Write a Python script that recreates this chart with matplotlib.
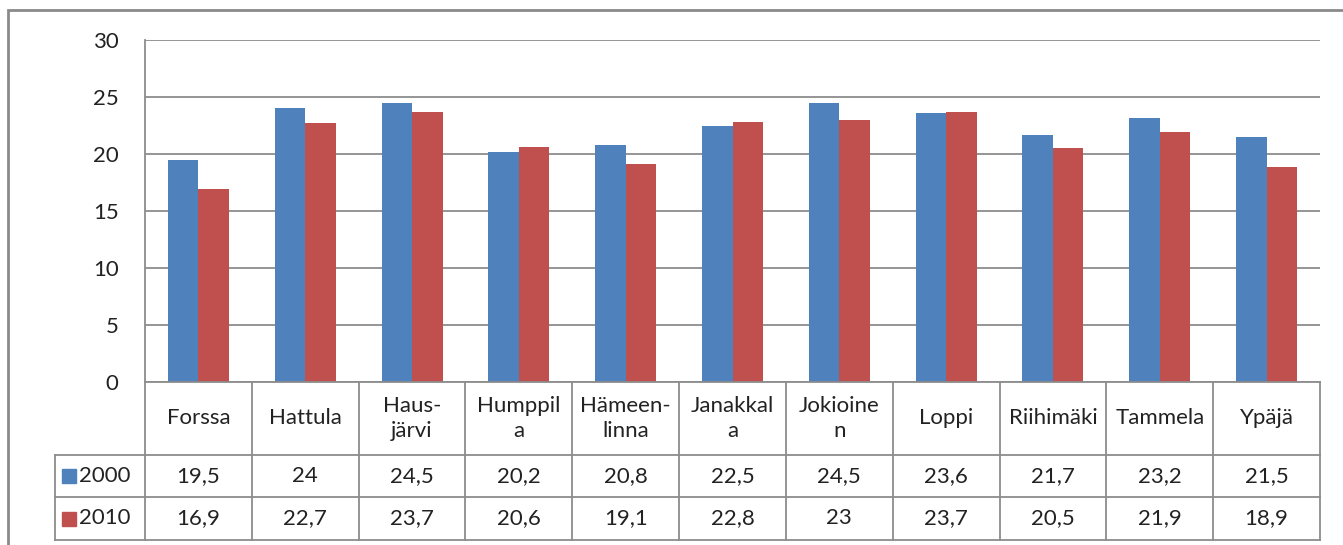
import matplotlib.pyplot as plt
import numpy as np
from matplotlib.lines import Line2D
from matplotlib.patches import Rectangle
from matplotlib.transforms import blended_transform_factory

# data
kunnat = ["Forssa", "Hattula", "Haus-\njärvi", "Humppil\na", "Hämeen-\nlinna",
          "Janakkal\na", "Jokioine\nn", "Loppi", "Riihimäki", "Tammela", "Ypäjä"]
v2000 = [19.5, 24, 24.5, 20.2, 20.8, 22.5, 24.5, 23.6, 21.7, 23.2, 21.5]
v2010 = [16.9, 22.7, 23.7, 20.6, 19.1, 22.8, 23, 23.7, 20.5, 21.9, 18.9]
series = ["2000", "2010"]
colors = ["#4F81BD", "#C0504D"]

plt.rcParams['font.family'] = ['Lato', 'DejaVu Sans']
W, H = 1343, 545
fig = plt.figure(figsize=(W / 100, H / 100), dpi=100)
ax = fig.add_axes([145 / W, 1 - 382 / H, 1175 / W, 342 / H])

grid_c = "#8C8C8C"
tc = "#222222"
fs = 16
x = np.arange(len(kunnat))
bw = 1 / 3.5
ax.bar(x - bw / 2, v2000, bw, color=colors[0], zorder=3)
ax.bar(x + bw / 2, v2010, bw, color=colors[1], zorder=3)

ax.set_xlim(-0.5, len(kunnat) - 0.5)
ax.set_ylim(0, 30)
ax.set_yticks(range(0, 31, 5))
ax.set_xticks([])
ax.grid(axis='y', color=grid_c, lw=1.3, zorder=0)
for s in ["top", "right", "bottom"]:
    ax.spines[s].set_visible(False)
ax.spines["left"].set_color(grid_c)
ax.spines["left"].set_linewidth(1.3)
ax.tick_params(axis='y', length=0, pad=19, labelsize=fs, labelcolor=tc)

# outer chart frame
fig.add_artist(Rectangle((8 / W, -0.1), 1.2, 1 - 10 / H + 0.1, transform=fig.transFigure,
                         fill=False, ec="#8A8A8A", lw=2))

# data table below the plot
bt = blended_transform_factory(ax.transData, fig.transFigure)
def fy(py):
    return 1 - py / H

rows_y = [382, 455, 497, 540]
xl, xr = -0.5, len(kunnat) - 0.5
left_px = 55 / W
for i, py in enumerate(rows_y):
    if i == 0:
        fig.add_artist(Line2D([xl, xr], [fy(py)] * 2, transform=bt, color=grid_c, lw=1.3))
    else:
        fig.add_artist(Line2D([left_px, 1320 / W], [fy(py)] * 2, transform=fig.transFigure,
                              color=grid_c, lw=1.3))
for b in np.arange(xl, xr + 0.01, 1):
    fig.add_artist(Line2D([b, b], [fy(382), fy(540)], transform=bt, color=grid_c, lw=1.3))
fig.add_artist(Line2D([left_px, left_px], [fy(455), fy(540)], transform=fig.transFigure,
                      color=grid_c, lw=1.3))

for i, name in enumerate(kunnat):
    fig.text(i, fy(418.5), name, transform=bt, ha='center', va='center', fontsize=fs,
             color=tc, linespacing=1.3)
    fig.text(i, fy(476), f"{v2000[i]:g}".replace(".", ","), transform=bt, ha='center',
             va='center', fontsize=fs, color=tc)
    fig.text(i, fy(518.5), f"{v2010[i]:g}".replace(".", ","), transform=bt, ha='center',
             va='center', fontsize=fs, color=tc)

for k, (lab, c) in enumerate(zip(series, colors)):
    yc = 476 if k == 0 else 518.5
    fig.add_artist(Rectangle((62 / W, fy(yc + 7)), 14 / W, 14 / H, transform=fig.transFigure,
                             color=c))
    fig.text(79 / W, fy(yc), lab, ha='left', va='center', fontsize=fs, color=tc)

fig.savefig("out.png", dpi=100)
